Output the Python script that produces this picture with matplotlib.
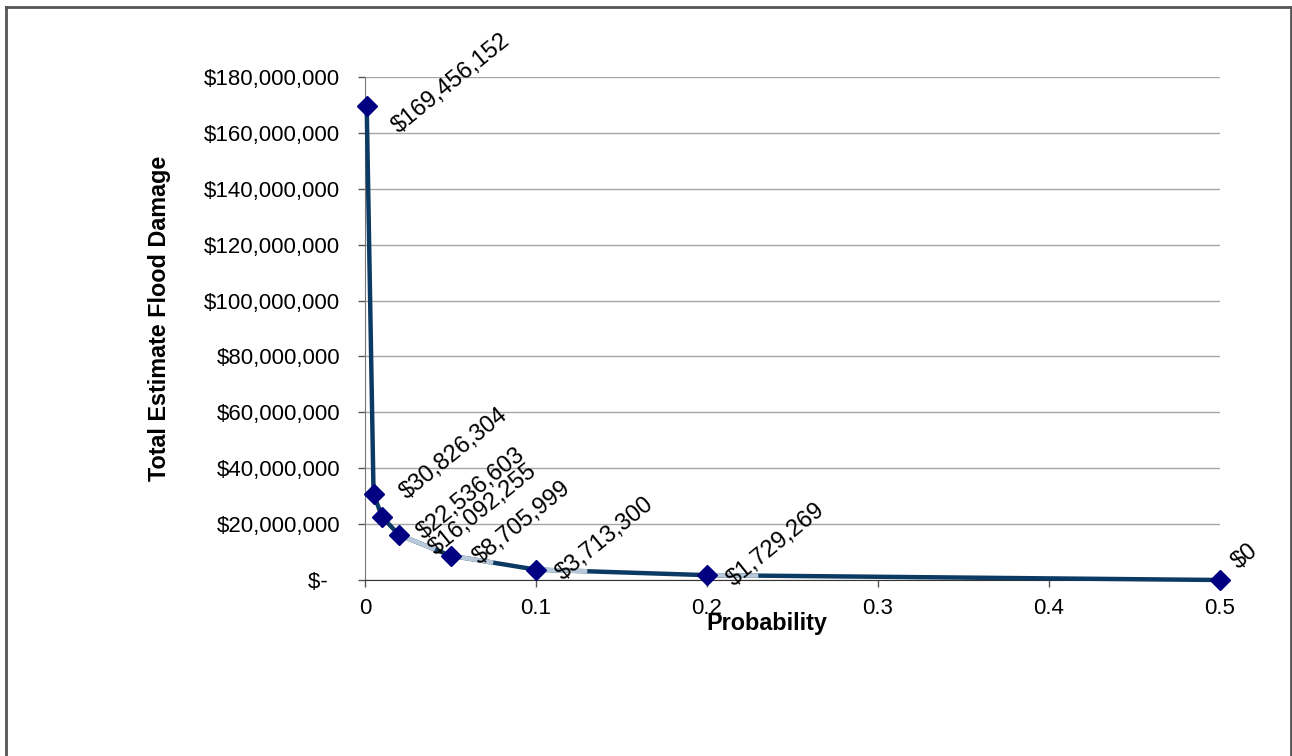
import numpy as np
import matplotlib.pyplot as plt
from matplotlib.lines import Line2D
from matplotlib.ticker import FuncFormatter

plt.rcParams['font.family'] = ['Liberation Sans', 'DejaVu Sans']

# data
probability = [0.001, 0.005, 0.01, 0.02, 0.05, 0.1, 0.2, 0.5]
damage = [169456152, 30826304, 22536603, 16092255, 8705999, 3713300, 1729269, 0]
labels = ['$169,456,152', '$30,826,304', '$22,536,603', '$16,092,255',
          '$8,705,999', '$3,713,300', '$1,729,269', '$0']

y_ticks = np.arange(0, 180000001, 20000000)
x_ticks = [0, 0.1, 0.2, 0.3, 0.4, 0.5]

dark = '#0b3a63'
light = '#b7c8d8'
navy = '#000080'

fig = plt.figure(figsize=(12.92, 7.56), dpi=100)
ax = fig.add_axes([365/1292, 1 - 580/756, 855/1292, 503/756])

ax.plot(probability, damage, color=dark, lw=3.2, zorder=3, solid_capstyle='butt',
        clip_on=False)

# shading artefacts of the original line (light part at start of some segments)
light_frac = {3: 0.7, 4: 0.5, 5: 0.3, 6: 0.1}
for i, f in light_frac.items():
    x0, x1 = probability[i], probability[i + 1]
    y0, y1 = damage[i], damage[i + 1]
    ax.plot([x0, x0 + f * (x1 - x0)], [y0, y0 + f * (y1 - y0)],
            color=light, lw=3.2, zorder=3.5, solid_capstyle='butt')

ax.plot(probability, damage, ls='none', marker='D', ms=10.5,
        mfc=navy, mec=navy, zorder=4, clip_on=False)

ax.set_xlim(0, 0.5)
ax.set_ylim(0, 180000000)
ax.set_xticks(x_ticks)
ax.set_xticklabels(['0', '0.1', '0.2', '0.3', '0.4', '0.5'])
ax.set_yticks(y_ticks)
ax.yaxis.set_major_formatter(FuncFormatter(
    lambda v, p: '$-  ' if v == 0 else '${:,.0f}'.format(v)))
ax.tick_params(axis='both', labelsize=16, length=5, width=1, color='#555555')
ax.tick_params(axis='y', pad=13)
ax.tick_params(axis='x', pad=8)
ax.grid(axis='y', color='#a6a6a6', lw=1)
ax.set_axisbelow(True)
for s in ['top', 'right']:
    ax.spines[s].set_visible(False)
ax.spines['left'].set_color('#777777')
ax.spines['bottom'].set_color('#333333')

ax.text(-0.24, 0.521, 'Total Estimate Flood Damage', rotation=90,
        ha='center', va='center', fontsize=16.8, fontweight='bold',
        transform=ax.transAxes)
ax.text(0.470, -0.0855, 'Probability', ha='center', va='center',
        fontsize=16.8, fontweight='bold', transform=ax.transAxes)

# data labels, rotated about their centre like the spreadsheet does,
# plus small per-label nudges (pixels right, up) as placed in the original
nudges = [(0, 0), (3, 17), (11, 0), (6, 2), (0, 10), (-2, 8), (-2, 7), (0, 0)]
ang = 39
fs = 17
fig.canvas.draw()
r = fig.canvas.get_renderer()
for xv, yv, s, (nx, ny) in zip(probability, damage, labels, nudges):
    t = ax.text(0, 0, s, fontsize=fs)
    w = t.get_window_extent(r).width
    t.remove()
    g, c = 12, 23
    dx = g + w / 2 - w / 2 * np.cos(np.radians(ang)) + nx
    dy = c - w / 2 * np.sin(np.radians(ang)) + ny
    ax.annotate(s, (xv, yv), xytext=(dx, dy), textcoords='offset pixels',
                rotation=ang, rotation_mode='anchor', ha='left', va='center',
                fontsize=fs, zorder=5, annotation_clip=False)

# outer frame (no bottom edge visible)
fx0, fx1, fy1 = 6 / 1292, 1291 / 1292, 1 - 7 / 756
for xs, ys in [([fx0, fx1], [fy1, fy1]), ([fx0, fx0], [0, fy1]), ([fx1, fx1], [0, fy1])]:
    fig.add_artist(Line2D(xs, ys, color='#555555', lw=2))

fig.savefig('out.png', dpi=100)
